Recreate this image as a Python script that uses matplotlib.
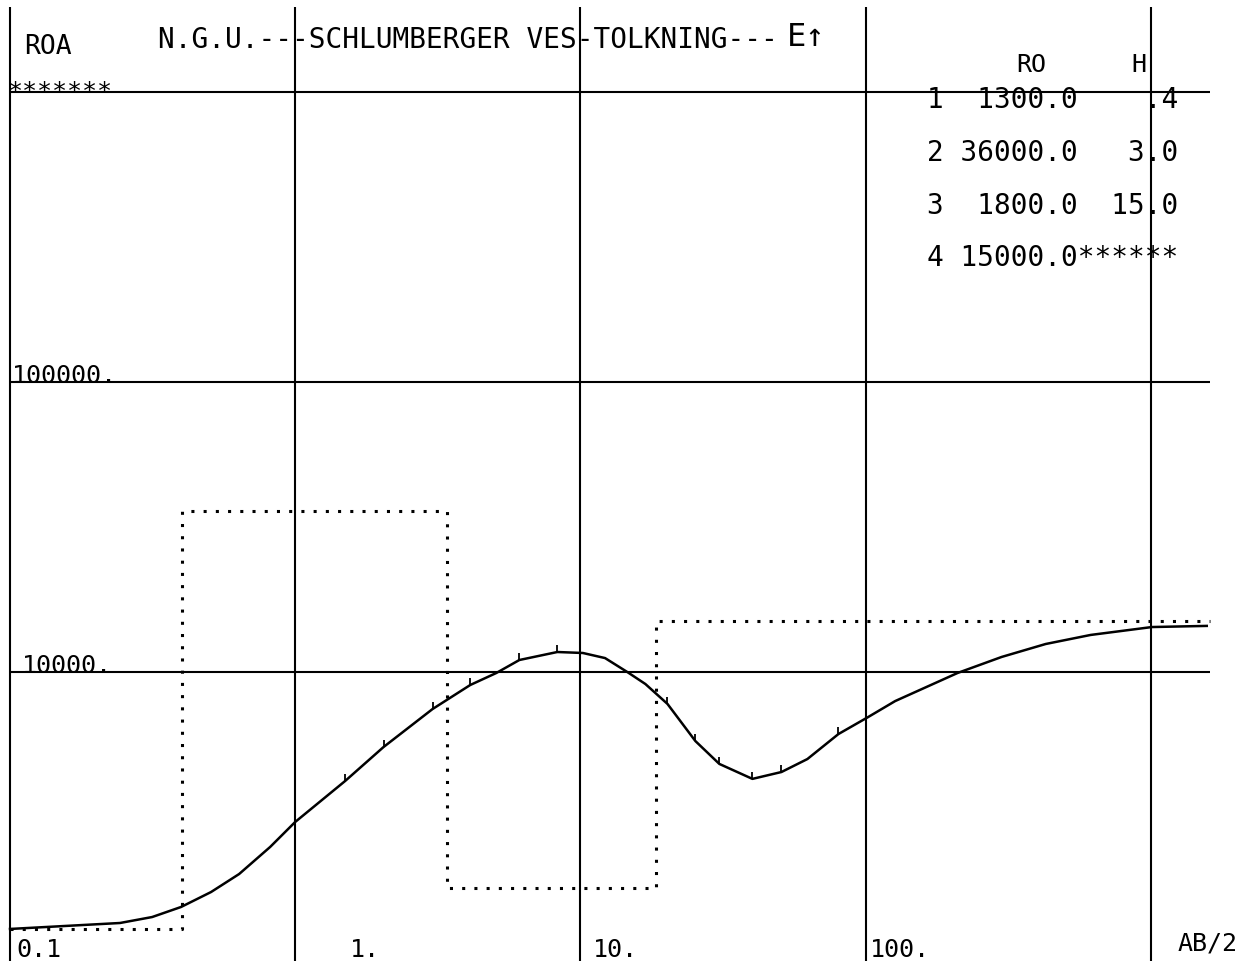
import numpy as np
import matplotlib
matplotlib.use("Agg")
import matplotlib.pyplot as plt

# ---------------- data ----------------
# apparent resistivity curve (AB/2 [m], ROA [ohm m])
ab2 = [0.1, 0.243, 0.315, 0.398, 0.507, 0.636, 0.817, 1.0, 1.497, 2.04, 3.03,
       4.11, 5.07, 6.11, 8.30, 10.2, 12.2, 14.6, 16.9, 20.2, 25.3, 30.7, 40.1,
       50.7, 62.5, 80.3, 102, 127, 210, 300, 428, 615, 1009, 1571]
roa = [1300, 1363, 1429, 1548, 1743, 2011, 2493, 3040, 4210, 5510, 7450,
       9020, 9920, 11000, 11720, 11630, 11170, 10000, 9090, 7760, 5780, 4820, 4280,
       4520, 5010, 6110, 6990, 7940, 9920, 11270, 12490, 13420, 14290, 14420]

# small data ticks on the curve
obs_ab2 = [1.5, 2.04, 3.03, 4.11, 6.11, 8.30, 20.2, 25.3, 30.7, 40.1, 50.7, 80.3]
obs_roa = [4210, 5510, 7450, 9020, 11000, 11720, 7760, 5780, 4820, 4280, 4520, 6110]

# layered model (table)
layer_no = [1, 2, 3, 4]
layer_ro = [1300.0, 36000.0, 1800.0, 15000.0]
layer_h = [0.4, 3.0, 15.0]

# axes decoration values
x_grid = [0.1, 1, 10, 100, 1000]
y_grid = [1e4, 1e5, 1e6]
x_labels = ["0.1", "1.", "10.", "100."]
y_labels = ["10000.", "100000.", "*******"]

# ---------------- layout ----------------
W, H = 1254, 962
X0PX, XDEC = 10.0, 285.2          # px of x=0.1, px per decade
Y4PX, YDEC = 673.0, 290.0         # px (from top) of y=1e4, px per decade


def xval(px):
    return 10 ** ((px - X0PX) / XDEC - 1)


def yval(py):
    return 10 ** (4 + (Y4PX - py) / YDEC)


def F(px, py):
    return px / W, 1 - py / H


fig = plt.figure(figsize=(W / 100, H / 100), dpi=100)
ax = fig.add_axes([0, 0, 1, 1])
ax.set_xscale("log")
ax.set_yscale("log")
ax.set_xlim(xval(0), xval(W))
ax.set_ylim(yval(H), yval(0))
ax.axis("off")

mono = ["DejaVu Sans Mono", "DejaVu Sans"]
FS = 19

# grid lines
x_right = xval(1210)
ax.hlines(y_grid, x_grid[0], x_right, color="black", lw=1.5)
ax.vlines(x_grid, yval(H), yval(8), color="black", lw=1.5)

# model (dotted)
depths = np.concatenate([[x_grid[0]], np.cumsum(layer_h), [x_right]])
ro_steps = layer_ro + [layer_ro[-1]]
ax.plot(depths, ro_steps, drawstyle="steps-post", color="black", lw=2.2,
        linestyle=(0, (1, 3)))

# apparent resistivity curve
ax.plot(ab2, roa, color="black", lw=1.8, solid_joinstyle="round")
ax.plot(obs_ab2, obs_roa, linestyle="none", marker=2, markersize=5,
        color="black", markeredgewidth=1.3)

# header texts
fig.text(*F(24, 54), "ROA", family=mono, fontsize=FS, va="baseline", ha="left")
fig.text(*F(158, 48), "N.G.U.---SCHLUMBERGER VES-TOLKNING---", family=mono,
         fontsize=FS + 1, va="baseline", ha="left")
fig.text(*F(787, 46), "E\u2191", family=mono, fontsize=FS + 4, va="baseline",
         ha="left")

# y labels
ax.text(xval(22), y_grid[0], y_labels[0], family=mono, fontsize=FS - 1,
        va="baseline", ha="left")
ax.text(xval(12), y_grid[1], y_labels[1], family=mono, fontsize=FS - 1,
        va="baseline", ha="left")
fig.text(*F(8, 99), y_labels[2], family=mono, fontsize=FS - 1, va="baseline",
         ha="left")

# x labels
for lab, px in zip(x_labels, [16, 350, 593, 870]):
    fig.text(*F(px, 957), lab, family=mono, fontsize=FS - 1, va="baseline",
             ha="left")
fig.text(*F(1178, 951), "AB/2", family=mono, fontsize=FS - 1, va="baseline",
         ha="left")

# model table
fig.text(*F(1031, 72), "RO", family=mono, fontsize=FS - 1, va="baseline",
         ha="center")
fig.text(*F(1139, 72), "H", family=mono, fontsize=FS - 1, va="baseline",
         ha="center")
row_y = [108, 161, 214, 266]
for i, (n, ro) in enumerate(zip(layer_no, layer_ro)):
    if i < len(layer_h):
        h = layer_h[i]
        hs = f"{h:.1f}"
        if h < 1:
            hs = hs[1:]
        s = f"{n:d}{ro:8.1f}{hs:>6s}"
    else:
        s = f"{n:d}{ro:8.1f}" + "*" * 6
    fig.text(*F(1178, row_y[i]), s, family=mono, fontsize=FS + 1,
             va="baseline", ha="right")

fig.savefig("out.png", dpi=100, facecolor="white")
